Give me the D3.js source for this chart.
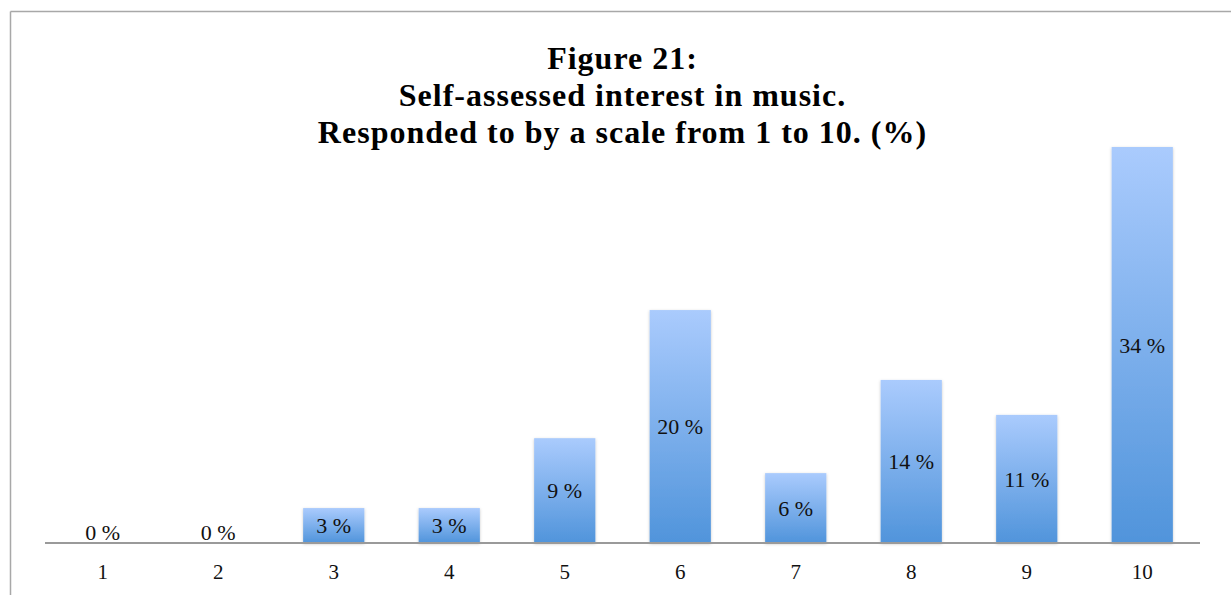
<!DOCTYPE html>
<html>
<head>
<meta charset="utf-8">
<script src="https://cdn.jsdelivr.net/npm/d3@7"></script>
<style>
  html, body { margin: 0; padding: 0; background: #fff; }
  svg { display: block; }
</style>
</head>
<body>
<svg id="chart" width="1231" height="595"></svg>
<script>
// Scale answers and share of respondents (%)
const categories = ["1", "2", "3", "4", "5", "6", "7", "8", "9", "10"];
const percentages = [0, 0, 3, 3, 9, 20, 6, 14, 11, 34];
const titleLines = [
  "Figure 21:",
  "Self-assessed interest in music.",
  "Responded to by a scale from 1 to 10. (%)"
];

const W = 1231, H = 595;
const svg = d3.select("#chart");
const serif = "'Liberation Serif', 'DejaVu Serif', serif";

// chart frame (top and left edges visible)
svg.append("line").attr("x1", 10.5).attr("x2", W).attr("y1", 11.5).attr("y2", 11.5)
  .attr("stroke", "#a8a8a8").attr("stroke-width", 1.5);
svg.append("line").attr("x1", 10.5).attr("x2", 10.5).attr("y1", 11.5).attr("y2", H)
  .attr("stroke", "#a8a8a8").attr("stroke-width", 1.5);

const margin = { left: 45, right: 31, top: 147, bottom: 52 };
const x = d3.scaleBand().domain(categories).range([margin.left, W - margin.right])
  .paddingInner(0.47).paddingOuter(0.235);
const y = d3.scaleLinear().domain([0, 34]).range([H - margin.bottom, margin.top]);

const defs = svg.append("defs");
const grad = defs.append("linearGradient").attr("id", "barFill")
  .attr("x1", 0).attr("y1", 0).attr("x2", 0).attr("y2", 1);
grad.append("stop").attr("offset", "0%").attr("stop-color", "#aacbfd");
grad.append("stop").attr("offset", "100%").attr("stop-color", "#5094db");

const shadow = defs.append("filter").attr("id", "barShadow")
  .attr("x", "-20%").attr("y", "-10%").attr("width", "140%").attr("height", "120%");
shadow.append("feDropShadow").attr("dx", 0).attr("dy", 1).attr("stdDeviation", 1.6)
  .attr("flood-color", "#000").attr("flood-opacity", 0.22);

const data = categories.map((c, i) => ({ c, v: percentages[i] }));

// bars
svg.append("g").selectAll("rect").data(data.filter(d => d.v > 0)).join("rect")
  .attr("x", d => x(d.c))
  .attr("width", x.bandwidth())
  .attr("y", d => y(d.v))
  .attr("height", d => y(0) - y(d.v))
  .attr("fill", "url(#barFill)")
  .attr("filter", "url(#barShadow)");

// baseline axis
const axis = d3.axisBottom(x).tickSize(0).tickPadding(21);
const gx = svg.append("g").attr("transform", `translate(0,${y(0)})`).call(axis);
gx.select(".domain").attr("stroke", "#9a9a9a").attr("stroke-width", 2)
  .attr("d", `M${margin.left},0H${W - margin.right}`);
gx.selectAll(".tick text").attr("font-family", serif).attr("font-size", 21)
  .attr("fill", "#111");

// value labels: centred in the bar, or resting on the baseline for empty bars
svg.append("g").selectAll("text").data(data).join("text")
  .attr("x", d => x(d.c) + x.bandwidth() / 2)
  .attr("y", d => d.v > 0 ? (y(d.v) + y(0)) / 2 : y(0) - 11)
  .attr("dy", "0.35em")
  .attr("text-anchor", "middle")
  .attr("font-family", serif).attr("font-size", 22).attr("fill", "#111")
  .text(d => `${d.v} %`);

// title
svg.append("g").selectAll("text").data(titleLines).join("text")
  .attr("x", 622.5)
  .attr("y", (d, i) => 69 + i * 37)
  .attr("text-anchor", "middle")
  .attr("font-family", serif).attr("font-weight", "bold").attr("font-size", 32)
  .attr("letter-spacing", 1)
  .attr("fill", "#000")
  .text(d => d);
</script>
</body>
</html>
